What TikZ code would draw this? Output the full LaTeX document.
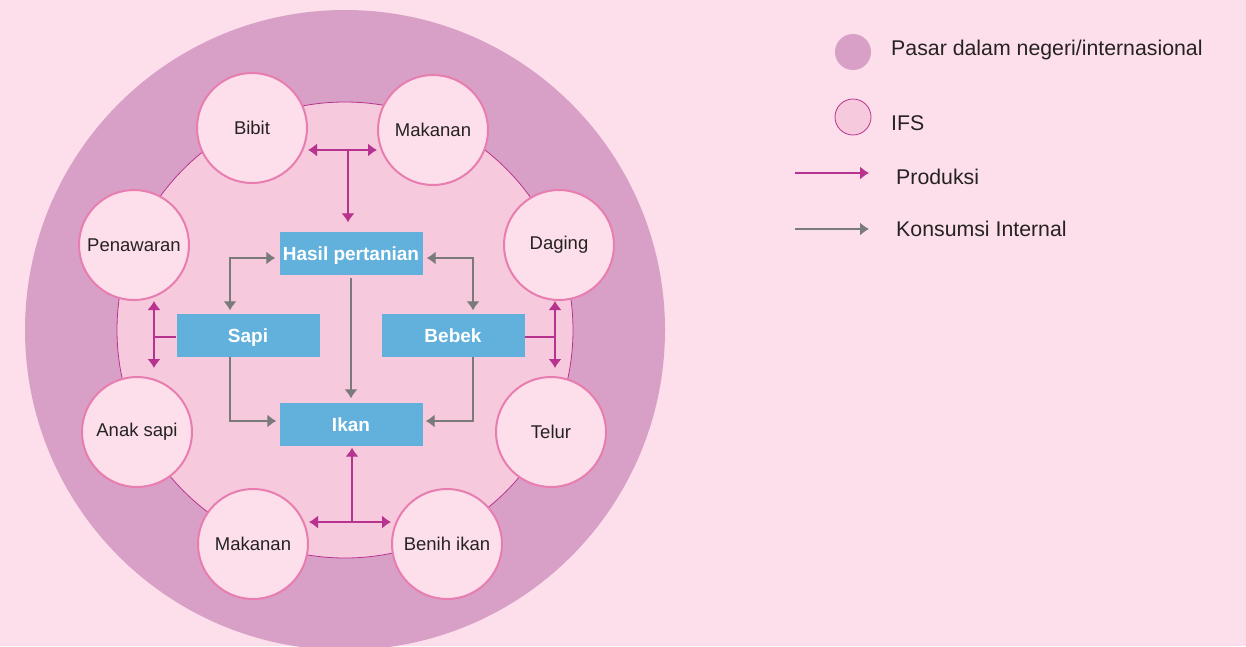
\documentclass[tikz,border=0pt]{standalone}
\usepackage{fontspec}
\setmainfont{Liberation Sans}
\usetikzlibrary{arrows.meta,positioning}
\definecolor{bgpink}{HTML}{FCDFEA}
\definecolor{marketpink}{HTML}{D8A0C7}
\definecolor{ifspink}{HTML}{F6C9DD}
\definecolor{ringpink}{HTML}{E87DB0}
\definecolor{prodline}{HTML}{B8338F}
\definecolor{consline}{HTML}{7A7A7A}
\definecolor{boxblue}{HTML}{62B0DC}
\definecolor{labelgrey}{HTML}{262223}
\tikzset{>={Latex[length=9pt,width=13pt]},
  unit/.style={circle,fill=bgpink,draw=ringpink,line width=2pt,minimum size=110pt,
    inner sep=0pt,text=labelgrey,font=\fontsize{18.5}{20}\selectfont},
  farm/.style={rectangle,fill=boxblue,minimum width=143pt,minimum height=43pt,
    inner sep=0pt,text height=17pt,text depth=2pt,text=white,
    font=\bfseries\fontsize{19}{21}\selectfont},
  prod/.style={draw=prodline,line width=1.2pt},
  cons/.style={draw=consline,line width=1.2pt},
  legtext/.style={inner sep=0pt,anchor=west,text=labelgrey,font=\fontsize{21.3}{23}\selectfont}
}

\begin{document}
\begin{tikzpicture}[x=1pt,y=-1pt]
    \useasboundingbox (0,0) rectangle (1246,646);
    \fill[bgpink] (0,0) rectangle (1246,646);
    \begin{scope}
        \clip (0,0) rectangle (1246,646);
        \fill[marketpink] (345,330) circle (320pt);
    \end{scope}
    \filldraw[fill=ifspink,draw=prodline,line width=0.8pt] (345,330) circle (228pt);

    % IFS units round the ring
    \node[unit] (bibit) at (252,128) {Bibit};
    \node[unit] (feedtop) at (433,130) {Makanan};
    \node[unit] (daging) at (559,245) {Daging};
    \node[unit] (telur) at (551,432) {Telur};
    \node[unit] (benih) at (447,544) {Benih ikan};
    \node[unit] (feedbot) at (253,544) {Makanan};
    \node[unit] (anak) at (137,432) {Anak sapi};
    \node[unit] (tawar) at (134,245) {Penawaran};

    % farm parts
    \node[farm] (hasil) at (351,253) {Hasil pertanian};
    \node[farm] (sapi) at (248,335) {Sapi};
    \node[farm] (bebek) at (453,335) {Bebek};
    \node[farm] (ikan) at (351,424) {Ikan};

    % internal use
    \draw[cons,<->,shorten <=4pt,shorten >=3pt] ([yshift=-5pt]hasil.west) -| ([xshift=-18pt]sapi.north);
    \draw[cons,<->,shorten <=4pt,shorten >=3pt] ([yshift=-5pt]hasil.east) -| ([xshift=20pt]bebek.north);
    \draw[cons,->,shorten <=3pt,shorten >=4pt] (hasil.south) -- (ikan.north);
    \draw[cons,->,shorten >=3pt] ([xshift=-18pt]sapi.south) |- ([yshift=3pt]ikan.west);
    \draw[cons,->,shorten >=3pt] ([xshift=20pt]bebek.south) |- ([yshift=3pt]ikan.east);

    % production
    \coordinate (topfork) at (348,150);
    \coordinate (botfork) at (352,522);
    \coordinate (leftfork) at (154,337);
    \coordinate (rightfork) at (555,337);
    \draw[prod,<->] (bibit.east |- topfork) -- (feedtop.west |- topfork);
    \draw[prod,->,shorten >=9pt] (topfork) -- (topfork |- hasil.north);
    \draw[prod,<->] (feedbot.east |- botfork) -- (benih.west |- botfork);
    \draw[prod,->,shorten >=2pt] (botfork) -- (botfork |- ikan.south);
    \draw[prod,<->,shorten >=8pt] (leftfork |- tawar.south) -- (leftfork |- anak.north);
    \draw[prod] (leftfork) -- (leftfork -| sapi.west);
    \draw[prod,<->,shorten >=8pt] (rightfork |- daging.south) -- (rightfork |- telur.north);
    \draw[prod] (bebek.east |- rightfork) -- (rightfork);

    % legend
    \node[circle,fill=marketpink,minimum size=36pt,inner sep=0pt] (lgmarket) at (853,52) {};
    \node[legtext] (lgmarkettext) at (891,50) {Pasar dalam negeri/internasional};
    \node[circle,fill=ifspink,draw=prodline,line width=0.8pt,minimum size=36pt,inner sep=0pt] (lgifs) at (853,117) {};
    \node[legtext] (lgifstext) at (891,123) {IFS};
    \coordinate (lgprodA) at (795,173);
    \coordinate (lgprodB) at (869,173);
    \draw[prod,->] (lgprodA) -- (lgprodB);
    \node[legtext] (lgprodtext) at (896,177) {Produksi};
    \coordinate (lgconsA) at (795,229);
    \coordinate (lgconsB) at (869,229);
    \draw[cons,->] (lgconsA) -- (lgconsB);
    \node[legtext] (lgconstext) at (896,229) {Konsumsi Internal};
\end{tikzpicture}
\end{document}
